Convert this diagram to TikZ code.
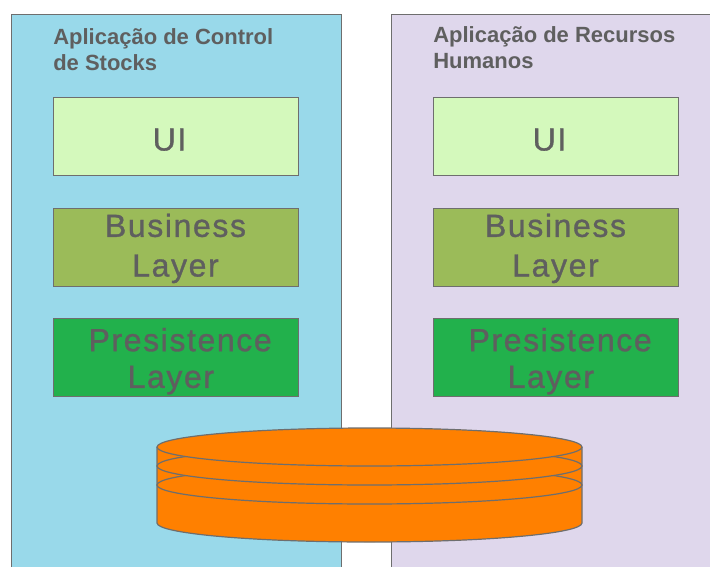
\documentclass[tikz,border=0pt]{standalone}
\usepackage{fontspec}
\setmainfont{Liberation Sans}
\definecolor{linegray}{HTML}{6E6E6E}
\definecolor{textgray}{HTML}{5F5F5F}
\definecolor{stockblue}{HTML}{99D9EA}
\definecolor{rhlilac}{HTML}{DFD7EC}
\definecolor{uigreen}{HTML}{D4F9BC}
\definecolor{bizgreen}{HTML}{9BBB59}
\definecolor{persgreen}{HTML}{22B14C}
\definecolor{dborange}{HTML}{FF8000}
\tikzset{
  panel/.style={draw=linegray, line width=1pt, anchor=north west, minimum height=420pt},
  title/.style={anchor=north west, align=left, inner sep=0pt, text=textgray, font=\fontsize{16.5}{19.5}\selectfont\bfseries},
  layer/.style={draw=linegray, line width=0.75pt, minimum width=183.75pt, minimum height=58.5pt, inner sep=0pt, align=center, text=textgray, font=\fontsize{24}{29}\selectfont\addfontfeature{LetterSpace=5,FakeBold=1}},
  disk/.style={draw=linegray, line width=0.9pt, fill=dborange},
}
\begin{document}
\begin{tikzpicture}[x=0.75pt, y=-0.75pt]
    \path[use as bounding box, clip] (0,0) rectangle (710,567);

    \node[panel, fill=stockblue, minimum width=247.5pt] (stocks) at (11,14) {};
    \node[panel, fill=rhlilac, minimum width=270pt] (rh) at (391,14) {};

    \node[title] (stockstitle) at (53,28) {Aplicação de Control\\de Stocks};
    \node[title] (rhtitle) at (433,26) {Aplicação de Recursos\\Humanos};

    \node[layer, fill=uigreen] (ui1) at (175.5,136) {\rule{0pt}{22pt}\hspace*{-9pt}UI};
    \node[layer, fill=bizgreen] (bl1) at (175.5,247) {\rule{0pt}{19.5pt}Business\\[0.75pt]Layer};
    \node[layer, fill=persgreen] (pl1) at (175.5,357.5) {\rule{0pt}{23pt}\hspace*{7pt}Presistence\\[-1.5pt]\hspace*{-7pt}Layer};

    \node[layer, fill=uigreen] (ui2) at (555.5,136) {\rule{0pt}{22pt}\hspace*{-9pt}UI};
    \node[layer, fill=bizgreen] (bl2) at (555.5,247) {\rule{0pt}{19.5pt}Business\\[0.75pt]Layer};
    \node[layer, fill=persgreen] (pl2) at (555.5,357.5) {\rule{0pt}{23pt}\hspace*{7pt}Presistence\\[-1.5pt]\hspace*{-7pt}Layer};

    % disks, bottom one first
    \draw[disk] (157,447) -- (157,523) arc[start angle=180, end angle=0, x radius=212.5, y radius=19] -- (582,447);
    \draw[disk] (369.5,485) ellipse[x radius=212.5, y radius=19];
    \draw[disk] (369.5,466) ellipse[x radius=212.5, y radius=19];
    \draw[disk] (369.5,447) ellipse[x radius=212.5, y radius=19];
\end{tikzpicture}
\end{document}
